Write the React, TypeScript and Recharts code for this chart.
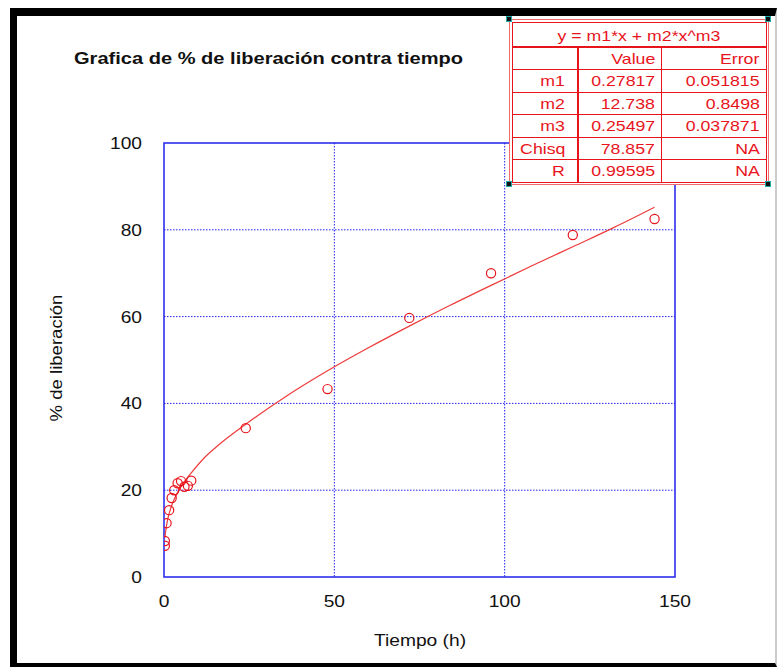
import React from "react";
import {
  ComposedChart,
  Scatter,
  Line,
  XAxis,
  YAxis,
  CartesianGrid,
  ReferenceArea,
} from "recharts";

// Observed release data (time h, % released)
const times = [0.25, 0.25, 0.75, 1.5, 2.25, 3, 4, 5, 6, 7, 8, 24, 48, 72, 96, 120, 144];
const released = [7.2, 8.3, 12.4, 15.4, 18.2, 20.0, 21.6, 22.1, 20.8, 21.0, 22.2, 34.3, 43.3, 59.7, 70.0, 78.8, 82.5];

// Fitted curve
const fitTimes = [0.25, 0.5, 1, 2, 3, 4, 6, 8, 12, 16, 24, 36, 48, 60, 72, 84, 96, 108, 120, 132, 144];
const fitValues = [9.0, 10.6, 13.0, 15.9, 17.9, 19.5, 22.0, 24.0, 27.6, 30.4, 35.2, 41.7, 47.5, 52.8, 57.8, 62.6, 67.2, 71.7, 76.1, 80.5, 85.2];

const xTicks = [0, 50, 100, 150];
const yTicks = [0, 20, 40, 60, 80, 100];

// Fit table
const fitEquation = "y = m1*x + m2*x^m3";
const tableHeader = ["", "Value", "Error"];
const paramNames = ["m1", "m2", "m3", "Chisq", "R"];
const paramValues = ["0.27817", "12.738", "0.25497", "78.857", "0.99595"];
const paramErrors = ["0.051815", "0.8498", "0.037871", "NA", "NA"];

const obsData = times.map((x, i) => ({ x, y: released[i] }));
const fitData = fitTimes.map((x, i) => ({ x, y: fitValues[i] }));

const RED = "#e8141c";
const BLUE = "#2020ee";
const FONT = "'Liberation Sans', Arial, Helvetica, sans-serif";
const STRETCH = 1.2;

const CircleShape = (props: any) => (
  <circle cx={props.cx} cy={props.cy} r={4.6} stroke={RED} strokeWidth={1.2} fill="none" />
);

const XTick = (props: any) => {
  const { x, y, payload } = props;
  return (
    <text
      transform={`translate(${x},${y + 22}) scale(${STRETCH},1)`}
      textAnchor="middle"
      fill="#111"
      fontSize={16}
      fontFamily={FONT}
    >
      {payload.value}
    </text>
  );
};

const YTick = (props: any) => {
  const { x, y, payload } = props;
  return (
    <text
      transform={`translate(${x - 14},${y + 6}) scale(${STRETCH},1)`}
      textAnchor="end"
      fill="#111"
      fontSize={16}
      fontFamily={FONT}
    >
      {payload.value}
    </text>
  );
};

const Stretched = ({ children, origin }: { children: React.ReactNode; origin: string }) => (
  <span
    style={{
      display: "inline-block",
      transform: "scaleX(1.18)",
      transformOrigin: origin,
      whiteSpace: "nowrap",
    }}
  >
    {children}
  </span>
);

function FitTable() {
  const rows = [tableHeader, ...paramNames.map((n, i) => [n, paramValues[i], paramErrors[i]])];
  const colW = [67, 84, 104];
  const rowH = 22.6;
  return (
    <div
      style={{
        position: "absolute",
        left: 509,
        top: 19,
        width: 260,
        height: 166,
        border: `1.5px solid #f06a6e`,
        boxSizing: "border-box",
        padding: 1.5,
        fontFamily: FONT,
        fontSize: 15,
        color: RED,
        background: "#fff",
      }}
    >
      <div
        style={{
          border: `1.5px solid ${RED}`,
          boxSizing: "border-box",
          width: "100%",
          height: "100%",
        }}
      >
        <div
          style={{
            height: 25,
            lineHeight: "25px",
            textAlign: "center",
            borderBottom: `2px solid ${RED}`,
            boxSizing: "border-box",
          }}
        >
          <Stretched origin="center">{fitEquation}</Stretched>
        </div>
        {rows.map((r, ri) => (
          <div
            key={ri}
            style={{
              display: "flex",
              height: rowH,
              borderBottom: ri < rows.length - 1 ? `1.5px solid ${RED}` : "none",
              boxSizing: "border-box",
            }}
          >
            {r.map((c, ci) => (
              <div
                key={ci}
                style={{
                  width: colW[ci],
                  textAlign: "right",
                  paddingRight: ci === 0 ? 12 : 6,
                  boxSizing: "border-box",
                  lineHeight: `${rowH}px`,
                  borderRight: ci < 2 ? `${ci === 0 ? 2.5 : 1.5}px solid ${RED}` : "none",
                }}
              >
                <Stretched origin="right">{c}</Stretched>
              </div>
            ))}
          </div>
        ))}
      </div>
      {[
        [-4, -4],
        [255, -4],
        [-4, 161],
        [255, 161],
      ].map(([l, t], i) => (
        <div
          key={i}
          style={{
            position: "absolute",
            left: l,
            top: t,
            width: 6,
            height: 6,
            background: "#111",
            border: "1px solid #2aa",
            boxSizing: "border-box",
          }}
        />
      ))}
    </div>
  );
}

export default function App() {
  return (
    <div
      style={{
        position: "absolute",
        left: 0,
        top: 0,
        width: 779,
        height: 667,
        background: "#fff",
        fontFamily: FONT,
        overflow: "hidden",
      }}
    >
      <div
        style={{
          position: "absolute",
          left: 10,
          top: 8,
          width: 767,
          height: 659,
          borderLeft: "7px solid #000",
          borderTop: "8px solid #000",
          borderBottom: "4px solid #000",
          borderRight: "2px solid #ccc",
          boxSizing: "border-box",
        }}
      />
      <div style={{ position: "absolute", left: 0, top: 0 }}>
        <ComposedChart
          width={779}
          height={667}
          margin={{ top: 143, right: 104, bottom: 60, left: 104 }}
        >
          <CartesianGrid
            stroke={BLUE}
            strokeDasharray="1.5 1.5"
            strokeWidth={1}
            horizontalValues={[20, 40, 60, 80]}
            verticalValues={[50, 100]}
          />
          <XAxis
            type="number"
            dataKey="x"
            domain={[0, 150]}
            ticks={xTicks}
            allowDataOverflow
            height={30}
            tickLine={false}
            axisLine={false}
            tick={<XTick />}
          />
          <YAxis
            type="number"
            dataKey="y"
            domain={[0, 100]}
            ticks={yTicks}
            allowDataOverflow
            width={60}
            tickLine={false}
            axisLine={false}
            tick={<YTick />}
          />
          <ReferenceArea
            x1={0}
            x2={150}
            y1={0}
            y2={100}
            stroke={BLUE}
            strokeWidth={1.5}
            fill="none"
            fillOpacity={0}
            ifOverflow="visible"
          />
          <Line
            data={fitData}
            dataKey="y"
            type="monotone"
            stroke="#ee3b3b"
            strokeWidth={1.2}
            dot={false}
            isAnimationActive={false}
          />
          <Scatter
            data={obsData}
            dataKey="y"
            shape={CircleShape}
            isAnimationActive={false}
          />
        </ComposedChart>
      </div>
      <div
        style={{
          position: "absolute",
          left: 74,
          top: 49,
          fontSize: 17,
          fontWeight: "bold",
          color: "#111",
          whiteSpace: "nowrap",
          transform: "scaleX(1.18)",
          transformOrigin: "left center",
        }}
      >
        Grafica de % de liberación contra tiempo
      </div>
      <div
        style={{
          position: "absolute",
          left: 420,
          top: 641,
          transform: "translate(-50%, -50%) scaleX(1.2)",
          fontSize: 16,
          color: "#111",
          whiteSpace: "nowrap",
        }}
      >
        Tiempo (h)
      </div>
      <div
        style={{
          position: "absolute",
          left: 57,
          top: 358,
          transform: "translate(-50%, -50%) rotate(-90deg) scaleX(1.16)",
          fontSize: 16,
          color: "#111",
          whiteSpace: "nowrap",
        }}
      >
        % de liberación
      </div>
      <FitTable />
    </div>
  );
}
